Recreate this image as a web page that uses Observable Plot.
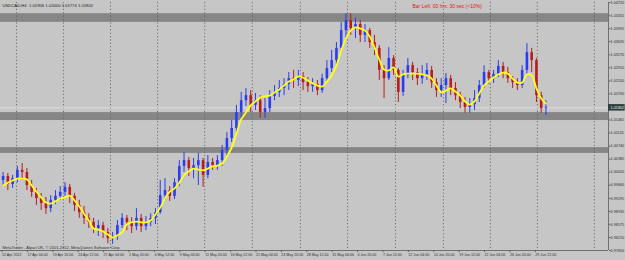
<!DOCTYPE html>
<html><head><meta charset="utf-8">
<script src="https://cdn.jsdelivr.net/npm/d3@7"></script>
<script src="https://cdn.jsdelivr.net/npm/@observablehq/plot@0.6"></script>
<style>
html,body{margin:0;padding:0;background:#c6c6c6;}
#chart{width:625px;height:260px;}
</style></head><body><div id="chart"></div>
<script>
// USDCAD H4, 12 Apr - 29 Jun 2012, one candle per 3 H4 bars
const openP = [0.9979,0.9990,0.9968,0.9984,1.0007,1.0001,0.9965,0.9946,0.9929,0.9915,
0.9901,0.9924,0.9935,0.9946,0.9960,0.9935,0.9910,0.9890,0.9874,0.9863,
0.9846,0.9854,0.9835,0.9818,0.9824,0.9854,0.9874,0.9863,0.9851,0.9874,
0.9851,0.9863,0.9874,0.9890,0.9937,0.9951,0.9935,0.9973,1.0018,1.0034,
1.0012,1.0020,1.0034,0.9993,1.0029,1.0020,1.0034,1.0062,1.0095,1.0123,
1.0167,1.0200,1.0214,1.0187,1.0200,1.0167,1.0178,1.0212,1.0223,1.0234,
1.0245,1.0261,1.0256,1.0267,1.0250,1.0239,1.0245,1.0228,1.0261,1.0289,
1.0311,1.0345,1.0394,1.0422,1.0400,1.0411,1.0381,1.0394,1.0361,1.0345,
1.0284,1.0261,1.0317,1.0284,1.0223,1.0270,1.0297,1.0278,1.0261,1.0270,
1.0284,1.0250,1.0228,1.0242,1.0261,1.0234,1.0214,1.0195,1.0181,1.0189,
1.0206,1.0242,1.0278,1.0261,1.0273,1.0295,1.0278,1.0261,1.0250,1.0242,
1.0284,1.0333,1.0311,1.0214,1.0178];
const closeP = [0.9990,0.9968,0.9984,1.0007,1.0001,0.9965,0.9946,0.9929,0.9915,0.9901,
0.9924,0.9935,0.9946,0.9960,0.9935,0.9910,0.9890,0.9874,0.9863,0.9846,
0.9854,0.9835,0.9818,0.9824,0.9854,0.9874,0.9863,0.9851,0.9874,0.9851,
0.9863,0.9874,0.9890,0.9937,0.9951,0.9935,0.9973,1.0018,1.0034,1.0012,
1.0020,1.0034,0.9993,1.0029,1.0020,1.0034,1.0062,1.0095,1.0123,1.0167,
1.0200,1.0214,1.0187,1.0200,1.0167,1.0178,1.0212,1.0223,1.0234,1.0245,
1.0261,1.0256,1.0267,1.0250,1.0239,1.0245,1.0228,1.0261,1.0289,1.0311,
1.0345,1.0394,1.0422,1.0400,1.0411,1.0381,1.0394,1.0361,1.0345,1.0284,
1.0261,1.0317,1.0284,1.0223,1.0270,1.0297,1.0278,1.0261,1.0270,1.0284,
1.0250,1.0228,1.0242,1.0261,1.0234,1.0214,1.0195,1.0181,1.0189,1.0206,
1.0242,1.0278,1.0261,1.0273,1.0295,1.0278,1.0261,1.0250,1.0242,1.0284,
1.0333,1.0311,1.0214,1.0178,1.0180];
const highP = [1.0001,0.9998,0.9993,1.0018,1.0026,1.0012,0.9979,0.9957,0.9943,0.9932,
0.9937,0.9951,0.9962,0.9973,0.9968,0.9943,0.9924,0.9907,0.9887,0.9874,
0.9868,0.9863,0.9846,0.9835,0.9868,0.9887,0.9882,0.9876,0.9901,0.9885,
0.9879,0.9887,0.9901,0.9979,0.9984,0.9962,0.9984,1.0034,1.0056,1.0043,
1.0040,1.0054,1.0040,1.0048,1.0040,1.0048,1.0076,1.0112,1.0145,1.0187,
1.0223,1.0234,1.0228,1.0220,1.0214,1.0206,1.0228,1.0242,1.0256,1.0261,
1.0278,1.0284,1.0284,1.0278,1.0264,1.0261,1.0256,1.0273,1.0311,1.0339,
1.0361,1.0417,1.0441,1.0441,1.0428,1.0422,1.0411,1.0400,1.0381,1.0353,
1.0297,1.0347,1.0325,1.0289,1.0284,1.0317,1.0306,1.0289,1.0297,1.0303,
1.0295,1.0261,1.0261,1.0275,1.0270,1.0250,1.0223,1.0209,1.0206,1.0228,
1.0256,1.0297,1.0284,1.0284,1.0311,1.0306,1.0292,1.0267,1.0261,1.0297,
1.0358,1.0345,1.0317,1.0223,1.0200];
const lowP = [0.9962,0.9951,0.9957,0.9973,0.9979,0.9951,0.9932,0.9910,0.9896,0.9885,
0.9890,0.9912,0.9924,0.9935,0.9915,0.9893,0.9874,0.9857,0.9846,0.9832,
0.9824,0.9818,0.9804,0.9802,0.9813,0.9846,0.9840,0.9832,0.9840,0.9835,
0.9840,0.9851,0.9857,0.9885,0.9924,0.9921,0.9926,0.9962,1.0001,0.9990,
0.9984,0.9965,0.9960,0.9984,1.0007,1.0007,1.0018,1.0048,1.0084,1.0112,
1.0151,1.0184,1.0167,1.0173,1.0151,1.0151,1.0167,1.0200,1.0209,1.0214,
1.0228,1.0234,1.0239,1.0228,1.0223,1.0223,1.0214,1.0220,1.0250,1.0278,
1.0300,1.0333,1.0367,1.0381,1.0372,1.0361,1.0361,1.0345,1.0325,1.0256,
1.0206,1.0256,1.0270,1.0195,1.0212,1.0261,1.0256,1.0242,1.0245,1.0256,
1.0234,1.0209,1.0209,1.0192,1.0214,1.0200,1.0178,1.0165,1.0165,1.0173,
1.0195,1.0234,1.0245,1.0248,1.0264,1.0261,1.0248,1.0234,1.0228,1.0234,
1.0273,1.0278,1.0195,1.0165,1.0159];
const maP = [0.9965,0.9973,0.9979,0.9984,0.9984,0.9982,0.9965,0.9948,0.9932,0.9918,
0.9915,0.9921,0.9929,0.9932,0.9937,0.9924,0.9907,0.9887,0.9868,0.9846,
0.9843,0.9838,0.9829,0.9821,0.9827,0.9835,0.9857,0.9863,0.9865,0.9863,
0.9863,0.9868,0.9885,0.9904,0.9929,0.9948,0.9957,0.9973,0.9993,1.0004,
1.0012,1.0009,1.0007,1.0012,1.0018,1.0020,1.0026,1.0045,1.0070,1.0109,
1.0148,1.0167,1.0187,1.0198,1.0209,1.0212,1.0214,1.0223,1.0231,1.0242,
1.0253,1.0259,1.0267,1.0264,1.0256,1.0248,1.0242,1.0239,1.0253,1.0270,
1.0297,1.0339,1.0372,1.0394,1.0403,1.0400,1.0394,1.0378,1.0347,1.0314,
1.0286,1.0284,1.0292,1.0267,1.0273,1.0275,1.0275,1.0275,1.0273,1.0270,
1.0261,1.0242,1.0223,1.0228,1.0234,1.0225,1.0214,1.0198,1.0189,1.0198,
1.0220,1.0242,1.0253,1.0264,1.0273,1.0278,1.0275,1.0261,1.0250,1.0250,
1.0273,1.0270,1.0234,1.0206,1.0192];

const timeLabels = ["12 Apr 2012","17 Apr 04:00","19 Apr 20:00","24 Apr 12:00","27 Apr 04:00",
"1 May 20:00","4 May 12:00","9 May 04:00","11 May 20:00","16 May 12:00","21 May 04:00",
"23 May 20:00","28 May 12:00","31 May 04:00","4 Jun 20:00","7 Jun 12:00","12 Jun 04:00",
"14 Jun 20:00","19 Jun 12:00","22 Jun 04:00","26 Jun 20:00","29 Jun 12:00"];
const barsPerLabel = 16;
const barsPerCandle = 3;
const priceTicks = [0.97850,0.98210,0.98575,0.98935,0.99295,0.99660,1.00020,1.00380,1.00740,
1.01105,1.01465,1.01825,1.02190,1.02550,1.02910,1.03270,1.03635,1.03995,1.04355,1.04720];
const zoneLow  = [1.0417, 1.0145, 1.0054];
const zoneHigh = [1.0441, 1.0167, 1.0070];
const weekGridBars = [9.5, 39, 68.7, 98.3, 128, 158, 188.3, 218, 248.2, 278.4, 308, 337.6, 373.5];
const lastPrice = 1.01802;
const headerText = "USDCAD,H4  1.01906 1.02000 1.01774 1.01802";
const timerText = "Bar Left: 00 hrs: 30 sec (<10%)";
const copyText = "MetaTrader - Alpari UK, \u00A9 2001-2012, MetaQuotes Software Corp.";
const xDomain = [-0.63, 382.4];
const yDomain = [0.97850, 1.04720];

const candles = closeP.map((c, i) => ({
  bar: i * barsPerCandle + 1, open: openP[i], high: highP[i], low: lowP[i], close: c, ma: maP[i]
}));
const zones = zoneLow.map((lo, i) => ({lo, hi: zoneHigh[i]}));
const up = "#2a3cf0", down = "#b81c1c";
const col = d => d.close >= d.open ? up : down;
const FONT = "'Liberation Sans', Arial, sans-serif";

const chart = Plot.plot({
  width: 625, height: 260,
  marginLeft: 0, marginRight: 17, marginTop: 2, marginBottom: 10,
  style: {background: "#c6c6c6", fontFamily: FONT, overflow: "visible"},
  x: {domain: xDomain},
  y: {domain: yDomain},
  marks: [
    Plot.rect(zones, {y1: "lo", y2: "hi", fill: "#868686"}),
    Plot.ruleX(weekGridBars, {stroke: "#5a5a5a", strokeWidth: 0.8, strokeDasharray: "1.2,2.2"}),
    Plot.ruleY([lastPrice], {stroke: "#e6e6e6", strokeWidth: 0.8}),
    Plot.ruleX(candles, {x: "bar", y1: "low", y2: "high", stroke: col, strokeWidth: 1}),
    Plot.ruleX(candles, {x: "bar", y1: "open", y2: "close", stroke: col, strokeWidth: 2.6}),
    Plot.line(candles, {x: "bar", y: "ma", stroke: "#ffff1a", strokeWidth: 1.8, curve: "catmull-rom"}),
    Plot.ruleY([yDomain[0]], {stroke: "#707070", strokeWidth: 1}),
    Plot.ruleX([xDomain[1]], {stroke: "#707070", strokeWidth: 1}),
    Plot.axisY({anchor: "right", ticks: priceTicks, tickFormat: d => d.toFixed(5), label: null,
      tickSize: 1.5, tickPadding: 0.5, fontSize: 3.8, fill: "#303030", stroke: "#606060"}),
    Plot.axisX({anchor: "bottom", ticks: timeLabels.map((_, k) => k * barsPerLabel), label: null,
      tickFormat: d => timeLabels[Math.round(d / barsPerLabel)], textAnchor: "start",
      tickSize: 2, tickPadding: 1, fontSize: 3.6, fill: "#303030", stroke: "#606060", dx: 0.5}),
    Plot.rect([lastPrice], {x1: xDomain[1], x2: xDomain[1] + 10.5, y1: d => d - 0.0009, y2: d => d + 0.0009,
      fill: "#2e3e3e", clip: false}),
    Plot.text([lastPrice], {y: d => d, frameAnchor: "right", dx: 2, textAnchor: "start",
      text: d => d.toFixed(5), fill: "#f0f0f0", fontSize: 3.8}),
    Plot.text([headerText], {frameAnchor: "top-left", dx: 2, dy: 2, fontSize: 4.2, fill: "#202020", textAnchor: "start"}),
    Plot.text([timerText], {frameAnchor: "top-left", dx: 412, dy: 2, fontSize: 5, fill: "#ee1010", textAnchor: "start"}),
    Plot.text([copyText], {frameAnchor: "bottom-left", dx: 2, dy: -2, fontSize: 4, fill: "#303030", textAnchor: "start"})
  ]
});
document.getElementById("chart").append(chart);
</script>
</body></html>
